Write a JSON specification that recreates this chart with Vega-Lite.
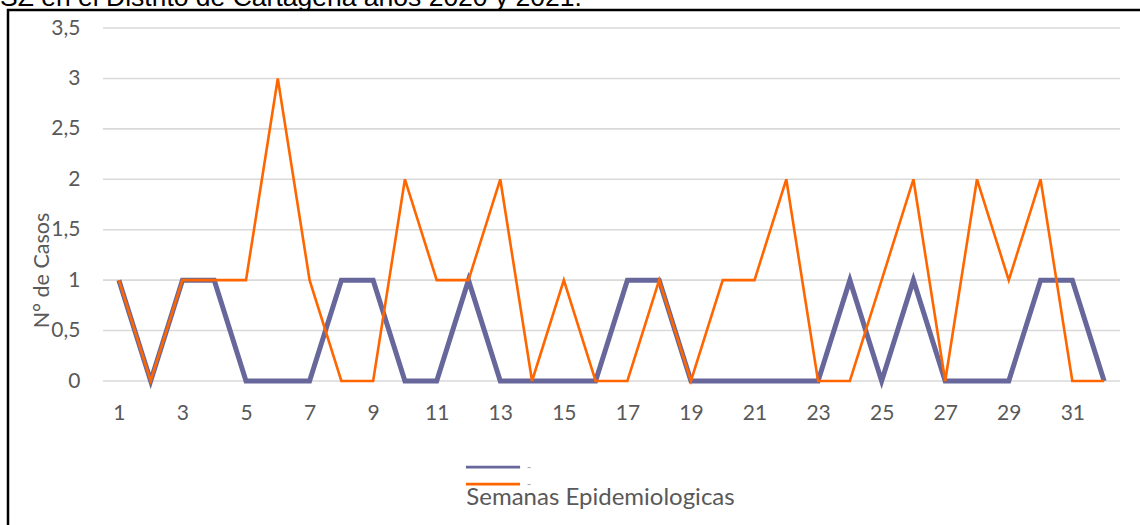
{
  "$schema": "https://vega.github.io/schema/vega-lite/v6.json",
  "autosize": "none",
  "padding": {"left": 8, "top": 10, "right": 0, "bottom": 0},
  "width": 1140,
  "height": 525,
  "background": "white",
  "title": {
    "text": "SZ en el Distrito de Cartagena años 2020 y 2021.",
    "anchor": "start",
    "frame": "group",
    "orient": "top",
    "baseline": "alphabetic",
    "offset": 0,
    "dy": 22,
    "dx": -8,
    "font": "Liberation Sans",
    "fontSize": 26.5,
    "fontWeight": "normal",
    "color": "#000000"
  },
  "config": {
    "view": {"stroke": "#000000", "strokeWidth": 2.5},
    "axis": {
      "labelFont": "Lato",
      "titleFont": "Lato",
      "labelColor": "#595959",
      "titleColor": "#595959",
      "labelFontSize": 21,
      "titleFontSize": 21.5,
      "titleFontWeight": "normal",
      "ticks": false,
      "tickSize": 0,
      "domain": false,
      "grid": false
    },
    "legend": {"symbolStrokeWidth": 2.75}
  },
  "datasets": {
    "grid": [
      {"v": 0}, {"v": 0.5}, {"v": 1}, {"v": 1.5}, {"v": 2}, {"v": 2.5}, {"v": 3}, {"v": 3.5}
    ],
    "casos": [
      {"semana": 1, "serie": "2020", "casos": 1},
      {"semana": 2, "serie": "2020", "casos": 0},
      {"semana": 3, "serie": "2020", "casos": 1},
      {"semana": 4, "serie": "2020", "casos": 1},
      {"semana": 5, "serie": "2020", "casos": 0},
      {"semana": 6, "serie": "2020", "casos": 0},
      {"semana": 7, "serie": "2020", "casos": 0},
      {"semana": 8, "serie": "2020", "casos": 1},
      {"semana": 9, "serie": "2020", "casos": 1},
      {"semana": 10, "serie": "2020", "casos": 0},
      {"semana": 11, "serie": "2020", "casos": 0},
      {"semana": 12, "serie": "2020", "casos": 1},
      {"semana": 13, "serie": "2020", "casos": 0},
      {"semana": 14, "serie": "2020", "casos": 0},
      {"semana": 15, "serie": "2020", "casos": 0},
      {"semana": 16, "serie": "2020", "casos": 0},
      {"semana": 17, "serie": "2020", "casos": 1},
      {"semana": 18, "serie": "2020", "casos": 1},
      {"semana": 19, "serie": "2020", "casos": 0},
      {"semana": 20, "serie": "2020", "casos": 0},
      {"semana": 21, "serie": "2020", "casos": 0},
      {"semana": 22, "serie": "2020", "casos": 0},
      {"semana": 23, "serie": "2020", "casos": 0},
      {"semana": 24, "serie": "2020", "casos": 1},
      {"semana": 25, "serie": "2020", "casos": 0},
      {"semana": 26, "serie": "2020", "casos": 1},
      {"semana": 27, "serie": "2020", "casos": 0},
      {"semana": 28, "serie": "2020", "casos": 0},
      {"semana": 29, "serie": "2020", "casos": 0},
      {"semana": 30, "serie": "2020", "casos": 1},
      {"semana": 31, "serie": "2020", "casos": 1},
      {"semana": 32, "serie": "2020", "casos": 0},
      {"semana": 1, "serie": "2021", "casos": 1},
      {"semana": 2, "serie": "2021", "casos": 0},
      {"semana": 3, "serie": "2021", "casos": 1},
      {"semana": 4, "serie": "2021", "casos": 1},
      {"semana": 5, "serie": "2021", "casos": 1},
      {"semana": 6, "serie": "2021", "casos": 3},
      {"semana": 7, "serie": "2021", "casos": 1},
      {"semana": 8, "serie": "2021", "casos": 0},
      {"semana": 9, "serie": "2021", "casos": 0},
      {"semana": 10, "serie": "2021", "casos": 2},
      {"semana": 11, "serie": "2021", "casos": 1},
      {"semana": 12, "serie": "2021", "casos": 1},
      {"semana": 13, "serie": "2021", "casos": 2},
      {"semana": 14, "serie": "2021", "casos": 0},
      {"semana": 15, "serie": "2021", "casos": 1},
      {"semana": 16, "serie": "2021", "casos": 0},
      {"semana": 17, "serie": "2021", "casos": 0},
      {"semana": 18, "serie": "2021", "casos": 1},
      {"semana": 19, "serie": "2021", "casos": 0},
      {"semana": 20, "serie": "2021", "casos": 1},
      {"semana": 21, "serie": "2021", "casos": 1},
      {"semana": 22, "serie": "2021", "casos": 2},
      {"semana": 23, "serie": "2021", "casos": 0},
      {"semana": 24, "serie": "2021", "casos": 0},
      {"semana": 25, "serie": "2021", "casos": 1},
      {"semana": 26, "serie": "2021", "casos": 2},
      {"semana": 27, "serie": "2021", "casos": 0},
      {"semana": 28, "serie": "2021", "casos": 2},
      {"semana": 29, "serie": "2021", "casos": 1},
      {"semana": 30, "serie": "2021", "casos": 2},
      {"semana": 31, "serie": "2021", "casos": 0},
      {"semana": 32, "serie": "2021", "casos": 0}
    ]
  },
  "layer": [
    {
      "data": {"name": "grid"},
      "mark": {"type": "rule", "color": "#d9d9d9", "strokeWidth": 1.6},
      "encoding": {
        "y": {
          "field": "v",
          "type": "quantitative",
          "scale": {"domain": [0, 3.5], "range": [371, 18], "nice": false, "zero": false},
          "axis": {
            "orient": "left",
            "offset": -72,
            "labelPadding": 0,
            "values": [0, 0.5, 1, 1.5, 2, 2.5, 3, 3.5],
            "labelExpr": "replace(toString(datum.value), '.', ',')",
            "title": "N° de Casos",
            "titleX": -38,
            "titleY": 260,
            "titleAngle": -90,
            "titleAlign": "center",
            "titleBaseline": "middle"
          }
        },
        "x": {
          "datum": 0.5,
          "type": "quantitative",
          "scale": {"domain": [0.5, 32.5], "range": [95, 1112], "nice": false, "zero": false},
          "axis": {
            "orient": "bottom",
            "offset": -154,
            "values": [1, 3, 5, 7, 9, 11, 13, 15, 17, 19, 21, 23, 25, 27, 29, 31],
            "labelPadding": 32,
            "labelBaseline": "middle",
            "title": "Semanas Epidemiologicas",
            "titleFontSize": 24,
            "titleX": 592,
            "titleY": 116,
            "titleAlign": "center",
            "titleBaseline": "middle"
          }
        },
        "x2": {"datum": 32.5}
      }
    },
    {
      "data": {"name": "casos"},
      "transform": [{"filter": "datum.serie === '2020'"}],
      "mark": {"type": "line", "strokeJoin": "miter", "strokeWidth": 5},
      "encoding": {
        "x": {"field": "semana", "type": "quantitative"},
        "y": {"field": "casos", "type": "quantitative"},
        "color": {
          "field": "serie",
          "type": "nominal",
          "scale": {"domain": ["2020", "2021"], "range": ["#67679b", "#ff6600"]},
          "legend": {
            "title": null,
            "orient": "none",
            "direction": "vertical",
            "legendX": 474,
            "legendY": 446,
            "symbolType": "M-2.85,0H2.85",
            "symbolSize": 361,
            "symbolStrokeWidth": 2.75,
            "rowPadding": -6,
            "labelExpr": "'-'",
            "labelColor": "#a6a6a6",
            "labelFontSize": 12,
            "labelOffset": 23
          }
        }
      }
    },
    {
      "data": {"name": "casos"},
      "transform": [{"filter": "datum.serie === '2021'"}],
      "mark": {"type": "line", "strokeJoin": "miter", "strokeWidth": 2.6},
      "encoding": {
        "x": {"field": "semana", "type": "quantitative"},
        "y": {"field": "casos", "type": "quantitative"},
        "color": {"field": "serie", "type": "nominal"}
      }
    }
  ]
}
